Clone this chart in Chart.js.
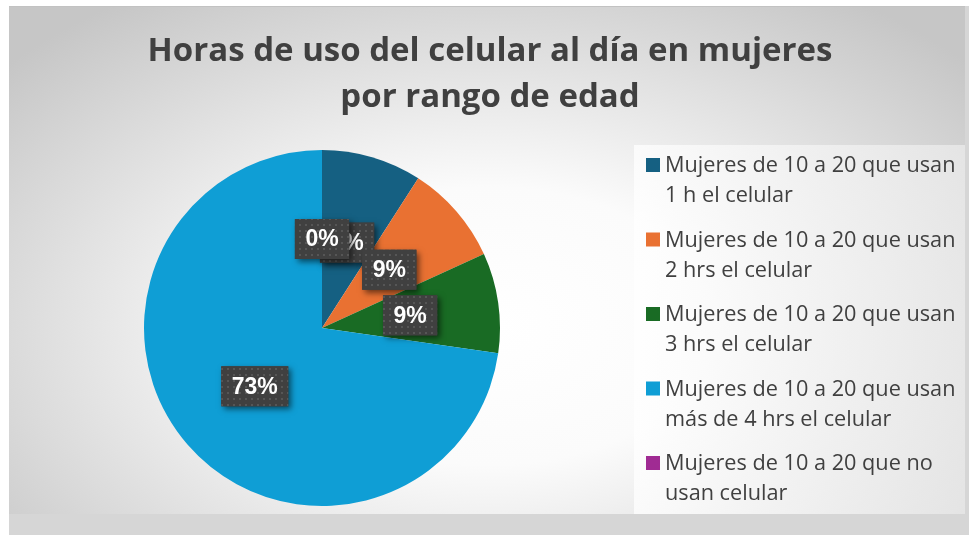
<!DOCTYPE html>
<html><head><meta charset="utf-8">
<script src="https://cdn.jsdelivr.net/npm/chart.js@4/dist/chart.umd.min.js"></script>
<style>
html,body{margin:0;padding:0;background:#fff;width:969px;height:535px;overflow:hidden}
#frame{position:absolute;left:9px;top:6px;width:960px;height:529px;background:#d6d6d6}
#c{position:absolute;left:0;top:0}
</style></head>
<body>
<div id="frame"><canvas id="c" width="956" height="508"></canvas></div>
<script>
// ---- data ----
const titleLines = ["Horas de uso del celular al día en mujeres", "por rango de edad"];
const categories = [
  ["Mujeres de 10 a 20 que usan", "1 h el celular"],
  ["Mujeres de 10 a 20 que usan", "2 hrs el celular"],
  ["Mujeres de 10 a 20 que usan", "3 hrs el celular"],
  ["Mujeres de 10 a 20 que usan", "más de 4 hrs el celular"],
  ["Mujeres de 10 a 20 que no", "usan celular"]
];
const values = [1, 1, 1, 8, 0];
const colors = ["#156082", "#E97132", "#196B24", "#0F9ED5", "#A02B93"];

const TXT = "#404040";

function makePattern(ctx) {
  const p = document.createElement("canvas");
  p.width = 6; p.height = 6;
  const c = p.getContext("2d");
  c.fillStyle = "#404040"; c.fillRect(0, 0, 6, 6);
  c.fillStyle = "#565656"; c.fillRect(2, 2, 2, 2);
  return ctx.createPattern(p, "repeat");
}

const decor = {
  id: "decor",
  beforeDraw(chart) {
    const ctx = chart.ctx, W = chart.width, H = chart.height;
    ctx.save();
    ctx.save();
    ctx.translate(480, 320);
    ctx.scale(1, 0.62);
    const g = ctx.createRadialGradient(0, 0, 0, 0, 0, 640);
    g.addColorStop(0, "#ffffff");
    g.addColorStop(0.35, "#fbfbfb");
    g.addColorStop(1, "#c6c6c6");
    ctx.fillStyle = g;
    ctx.fillRect(-480, -320 / 0.62, W, H / 0.62);
    ctx.restore();
    ctx.strokeStyle = "#c2c2c2"; ctx.lineWidth = 1;
    ctx.beginPath(); ctx.moveTo(0, 0.5); ctx.lineTo(W, 0.5); ctx.stroke();

    // title
    ctx.fillStyle = TXT;
    ctx.font = "bold 33px 'Open Sans'";
    ctx.textAlign = "center"; ctx.textBaseline = "middle";
    ctx.fillText(titleLines[0], 481, 46);
    ctx.fillText(titleLines[1], 481, 92);

    // legend box
    const lg = ctx.createLinearGradient(625, 0, 957, 0);
    lg.addColorStop(0, "rgba(255,255,255,0.75)");
    lg.addColorStop(1, "rgba(235,235,235,0.75)");
    ctx.fillStyle = lg;
    ctx.fillRect(625, 139, 332, 371);

    // legend items
    ctx.textAlign = "left";
    ctx.font = "21.7px 'Open Sans'";
    const labels = chart.data.labels;
    const bg = chart.data.datasets[0].backgroundColor;
    for (let i = 0; i < labels.length; i++) {
      const y = 159 + i * 74.5;
      ctx.fillStyle = bg[i];
      ctx.fillRect(637, y - 7, 14, 14);
      ctx.fillStyle = TXT;
      const lines = labels[i];
      for (let j = 0; j < lines.length; j++) ctx.fillText(lines[j], 656, y + j * 30 + 1);
    }
    ctx.restore();
  },
  afterDatasetsDraw(chart) {
    const ctx = chart.ctx;
    const meta = chart.getDatasetMeta(0);
    const data = chart.data.datasets[0].data;
    const total = data.reduce((a, b) => a + b, 0);
    const pat = makePattern(ctx);
    ctx.save();
    ctx.font = "bold 23px 'Liberation Sans'";
    ctx.textAlign = "center"; ctx.textBaseline = "middle";
    meta.data.forEach((arc, i) => {
      const pos = arc.tooltipPosition();
      const txt = Math.round(data[i] / total * 100) + "%";
      const tw = ctx.measureText(txt).width;
      const w = tw + 21, h = 40;
      const x = pos.x - w / 2, y = pos.y - h / 2;
      ctx.save();
      ctx.shadowColor = "rgba(0,0,0,0.55)";
      ctx.shadowBlur = 6; ctx.shadowOffsetX = 3; ctx.shadowOffsetY = 3;
      ctx.fillStyle = "#404040";
      ctx.fillRect(x, y, w, h);
      ctx.restore();
      ctx.fillStyle = pat;
      ctx.fillRect(x, y, w, h);
      ctx.fillStyle = "#ffffff";
      ctx.fillText(txt, pos.x, pos.y + 1);
    });
    ctx.restore();
  }
};

new Chart(document.getElementById("c"), {
  type: "pie",
  data: {
    labels: categories,
    datasets: [{ data: values, backgroundColor: colors, borderWidth: 0 }]
  },
  options: {
    responsive: false,
    animation: false,
    layout: { padding: { left: 135, right: 465, top: 144, bottom: 8 } },
    plugins: { legend: { display: false }, title: { display: false }, tooltip: { enabled: false } }
  },
  plugins: [decor]
});
</script>
</body></html>
